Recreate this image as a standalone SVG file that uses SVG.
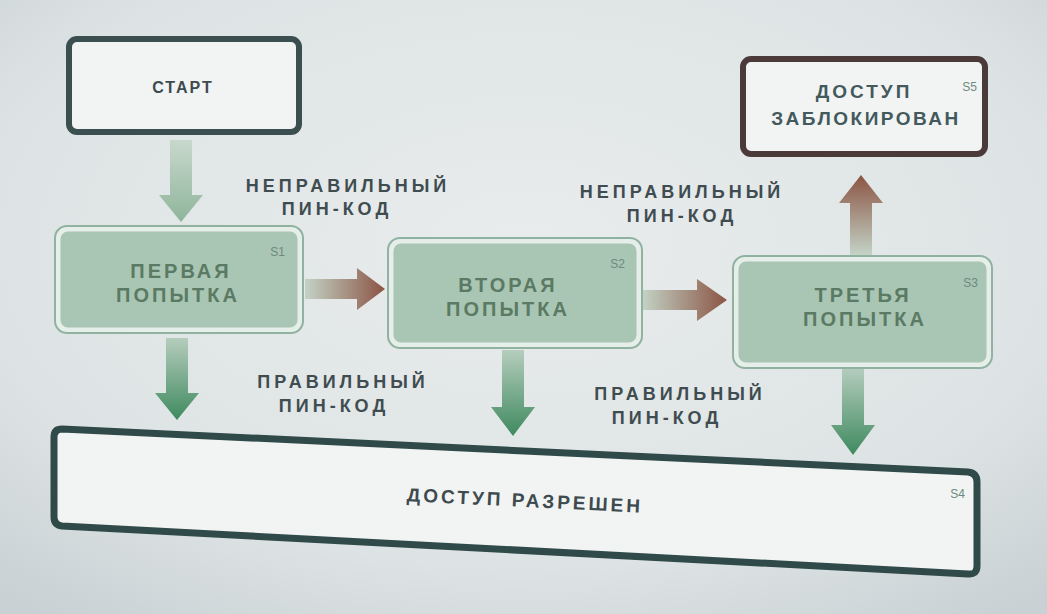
<svg xmlns="http://www.w3.org/2000/svg" width="1047" height="614" viewBox="0 0 1047 614">
<defs>
<radialGradient id="bg" cx="0.5" cy="0.4" r="0.75">
<stop offset="0" stop-color="#e9ecec"/><stop offset="0.7" stop-color="#dde3e4"/><stop offset="1" stop-color="#c9d1d4"/>
</radialGradient>
<linearGradient id="gdown" x1="0" y1="0" x2="0" y2="1">
<stop offset="0" stop-color="#b5cdbd"/><stop offset="1" stop-color="#3f8a5f"/>
</linearGradient>
<linearGradient id="gstart" x1="0" y1="0" x2="0" y2="1">
<stop offset="0" stop-color="#c8d8cc"/><stop offset="1" stop-color="#8fb59b"/>
</linearGradient>
<linearGradient id="gright" x1="0" y1="0" x2="1" y2="0">
<stop offset="0" stop-color="#c3d3c6"/><stop offset="1" stop-color="#8b5444"/>
</linearGradient>
<linearGradient id="gup" x1="0" y1="1" x2="0" y2="0">
<stop offset="0" stop-color="#c3d3c6"/><stop offset="1" stop-color="#8b5444"/>
</linearGradient>
<style>
.lbl{font-family:"Liberation Sans",Arial,sans-serif;font-weight:bold;font-size:18px;fill:#3f4c50;text-anchor:middle;letter-spacing:4px}
.ntx{font-family:"Liberation Sans",Arial,sans-serif;font-weight:bold;font-size:19px;fill:#3d4b4f;text-anchor:middle;letter-spacing:3px}
.gtx{font-family:"Liberation Sans",Arial,sans-serif;font-weight:bold;font-size:20px;fill:#5a7a63;text-anchor:middle;letter-spacing:3px}
.sid{font-family:"Liberation Sans",Arial,sans-serif;font-size:12px;fill:#6d8a80;text-anchor:end}
.dark{fill:#f2f4f3;stroke:#3b4f50;stroke-width:6}
.green{fill:#a9c5b3;stroke:#e6eeea;stroke-width:5}
.gout{fill:none;stroke:#8fb3a0;stroke-width:2}
</style>
</defs>
<rect width="1047" height="614" fill="url(#bg)"/>
<g id="connectors">
<path d="M170,140 H192 V195 H203 L181,222 L159,195 H170 Z" fill="url(#gstart)"/>
<path d="M166,338 H188 V393 H199 L177,420 L155,393 H166 Z" fill="url(#gdown)"/>
<path d="M502,350 H524 V407 H535 L513,436 L491,407 H502 Z" fill="url(#gdown)"/>
<path d="M842,368 H864 V425 H875 L853,455 L831,425 H842 Z" fill="url(#gdown)"/>
<path d="M305,279 H357 V268 L385,289 L357,310 V299 H305 Z" fill="url(#gright)"/>
<path d="M642,290 H697 V279 L727,300 L697,321 V310 H642 Z" fill="url(#gright)"/>
<path d="M850,255 V203 H839 L861,175 L883,203 H872 V255 Z" fill="url(#gup)"/>
</g>
<g id="start">
<rect x="69" y="39" width="230" height="93" rx="8" class="dark"/>
<text x="183" y="93" class="ntx" style="font-size:16px;letter-spacing:2px">СТАРТ</text>
</g>
<g id="s1">
<rect x="58" y="229" width="242" height="101" rx="10" class="green"/>
<rect x="55" y="226" width="248" height="107" rx="12" class="gout"/>
<text x="181" y="278" class="gtx">ПЕРВАЯ</text>
<text x="178" y="302" class="gtx">ПОПЫТКА</text>
<text x="285" y="256" class="sid">S1</text>
</g>
<g id="s2">
<rect x="391" y="241" width="248" height="104" rx="10" class="green"/>
<rect x="388" y="238" width="254" height="110" rx="12" class="gout"/>
<text x="508" y="292" class="gtx">ВТОРАЯ</text>
<text x="508" y="316" class="gtx">ПОПЫТКА</text>
<text x="625" y="268" class="sid">S2</text>
</g>
<g id="s3">
<rect x="736" y="259" width="253" height="106" rx="10" class="green"/>
<rect x="733" y="256" width="259" height="112" rx="12" class="gout"/>
<text x="863" y="302" class="gtx">ТРЕТЬЯ</text>
<text x="865" y="326" class="gtx">ПОПЫТКА</text>
<text x="978" y="287" class="sid">S3</text>
</g>
<g id="s5">
<rect x="743" y="59" width="242" height="95" rx="8" class="dark" style="stroke:#4a3a3a"/>
<text x="864" y="98" class="ntx" style="fill:#43595c">ДОСТУП</text>
<text x="866" y="125" class="ntx" style="fill:#43595c;letter-spacing:2.5px">ЗАБЛОКИРОВАН</text>
<text x="977" y="91" class="sid">S5</text>
</g>
<g id="s4">
<path d="M62,429 L968,472 Q977,473 977,482 L977,566 Q977,575 968,574 L62,526 Q54,525 54,517 L54,437 Q54,429 62,429 Z" class="dark" style="stroke:#2f4a48;stroke-width:7"/>
<text x="525" y="507" class="ntx" transform="rotate(2.8 525 500)">ДОСТУП РАЗРЕШЕН</text>
<text x="965" y="498" class="sid">S4</text>
</g>
<g id="labels">
<text x="348" y="192" class="lbl">НЕПРАВИЛЬНЫЙ</text>
<text x="337" y="215" class="lbl">ПИН-КОД</text>
<text x="682" y="198" class="lbl">НЕПРАВИЛЬНЫЙ</text>
<text x="682" y="222" class="lbl">ПИН-КОД</text>
<text x="343" y="388" class="lbl">ПРАВИЛЬНЫЙ</text>
<text x="334" y="412" class="lbl">ПИН-КОД</text>
<text x="680" y="400" class="lbl">ПРАВИЛЬНЫЙ</text>
<text x="667" y="424" class="lbl">ПИН-КОД</text>
</g>
</svg>
